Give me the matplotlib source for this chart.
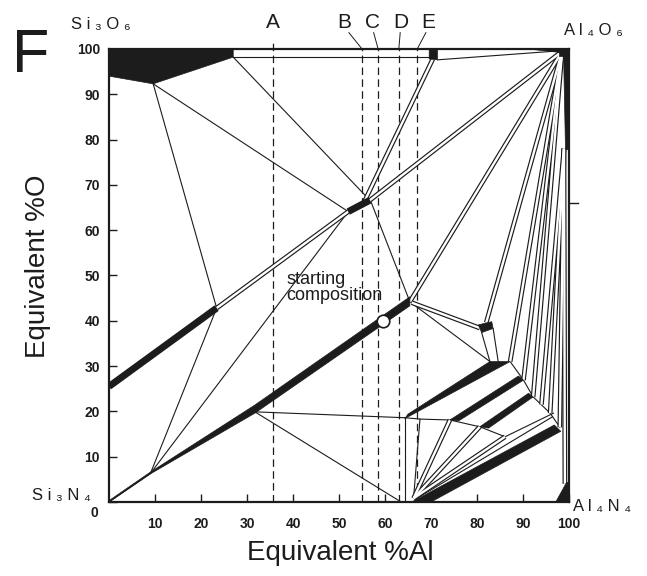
import matplotlib.pyplot as plt
from matplotlib.transforms import ScaledTranslation

plt.rcParams['font.family'] = ['Liberation Sans', 'DejaVu Sans']

INK = '#1c1c1c'

# composition lines (equivalent %Al)
comp_names = ['A', 'B', 'C', 'D', 'E']
comp_x = [35.6, 55.0, 58.5, 63.0, 67.0]
comp_label_x = [35.6, 51.2, 57.2, 63.4, 69.5]

x_ticks = [10, 20, 30, 40, 50, 60, 70, 80, 90, 100]
y_ticks = [0, 10, 20, 30, 40, 50, 60, 70, 80, 90, 100]

start_comp = (59.6, 40.0)

# thin tie lines: (x0, y0, x1, y1) in eq %Al / eq %O
thin_lines = [
    (9.6, 92.3, 23.4, 42.8),
    (9.6, 92.3, 52.0, 64.1),
    (27.0, 98.2, 56.7, 66.6),
    (9.0, 6.3, 23.4, 42.8),
    (9.0, 6.3, 52.0, 64.1),
    (31.7, 19.9, 64.3, 18.6),
    (31.7, 19.9, 63.5, 0.0),
    (64.3, 0.0, 64.3, 18.6),
    (65.4, 44.2, 56.9, 66.4),
    (65.4, 44.2, 82.8, 31.0),
    (81.0, 37.4, 82.8, 31.0),
    (83.5, 38.3, 84.6, 31.0),
    (27.0, 98.2, 69.6, 98.2),
    (71.4, 97.6, 98.0, 99.6),
    (66.2, 0.8, 67.6, 18.3),
    (66.6, 0.6, 96.4, 18.8),
    (0.0, 0.0, 9.0, 6.3),
]

# boundary chains
bottom_chain_x = [64.3, 67.6, 74.1, 80.6, 86.1, 96.6]
bottom_chain_y = [18.6, 18.3, 18.1, 16.6, 14.4, 19.6]
right_chain_x = [87.2, 90.1, 92.2, 95.9, 98.0]
right_chain_y = [31.0, 26.9, 23.2, 19.6, 16.5]

# narrow two-phase strips drawn as double lines
double_lines = [
    (23.4, 42.8, 52.0, 64.1),
    (56.7, 66.6, 98.5, 99.5),
    (55.6, 66.5, 70.4, 97.8),
    (65.4, 44.2, 98.5, 99.5),
    (65.8, 44.0, 80.6, 38.4),
    (82.0, 39.6, 98.5, 99.5),
    (87.2, 31.0, 98.5, 99.5),
    (90.1, 26.9, 98.5, 99.5),
    (92.2, 23.2, 98.5, 99.5),
    (95.9, 19.6, 98.9, 78.0),
    (98.0, 16.5, 98.9, 78.0),
    (94.0, 21.5, 98.9, 78.0),
    (98.9, 78.0, 99.1, 4.0),
    (66.2, 0.8, 74.1, 18.1),
    (66.2, 0.8, 80.6, 16.6),
    (66.2, 0.8, 86.1, 14.4),
]

# single-phase / dense regions (filled)
black_regions = [
    [(0, 100), (27.0, 100), (27.0, 98.2), (9.6, 92.3), (0, 94.0)],
    [(69.6, 97.8), (71.4, 97.6), (71.4, 100), (69.6, 100)],
    [(97.8, 98.5), (100, 98.5), (100, 100), (97.8, 100)],
    [(92.0, 100), (98.0, 100), (98.0, 99.3)],
    [(80.3, 39.1), (83.2, 39.8), (83.5, 38.3), (81.0, 37.4)],
    [(64.3, 18.4), (87.2, 31.0), (82.8, 31.0), (65.0, 19.4)],
    [(74.1, 18.1), (76.0, 17.9), (90.1, 26.9), (89.0, 27.8)],
    [(80.6, 16.6), (82.5, 16.3), (92.2, 23.2), (91.2, 24.0)],
    [(65.8, 0.0), (70.0, 0.0), (98.2, 15.6), (96.8, 17.0)],
    [(97.0, 0.0), (100, 0.0), (100, 4.5), (99.4, 4.5)],
    # right edge wedge below Al4O6
    [(98.6, 99.5), (100, 99.5), (100, 78.0), (99.2, 78.0)],
    # Si3N4 - starting composition join
    [(0, 0), (9.0, 6.2), (31.7, 19.6), (65.4, 43.3),
     (65.4, 45.3), (31.7, 21.4), (9.0, 6.6), (0, 0.3)],
]

thick_lines = [
    (0.0, 25.5, 23.4, 42.8),
    (52.0, 64.1, 56.7, 66.6),
]

fig = plt.figure(figsize=(6.47, 5.76), dpi=100)
ax = fig.add_axes([0.1685, 0.1285, 0.711, 0.7865])
ax.set_xlim(0, 100)
ax.set_ylim(0, 100)

for x in comp_x:
    ax.plot([x, x], [0, 101.5 if x < 40 else 100], color=INK, lw=0.9,
            ls=(0, (6, 3.5)), clip_on=False, zorder=1)

for x0, y0, x1, y1 in thin_lines:
    ax.plot([x0, x1], [y0, y1], color=INK, lw=0.8, zorder=2)
ax.plot(bottom_chain_x, bottom_chain_y, color=INK, lw=0.8, zorder=2)
ax.plot(right_chain_x, right_chain_y, color=INK, lw=0.8, zorder=2)

for x0, y0, x1, y1 in double_lines:
    ax.plot([x0, x1], [y0, y1], color=INK, lw=3.4, solid_capstyle='butt', zorder=3)
for x0, y0, x1, y1 in double_lines:
    ax.plot([x0, x1], [y0, y1], color='white', lw=1.7, solid_capstyle='butt', zorder=3)

for poly in black_regions:
    ax.fill([p[0] for p in poly], [p[1] for p in poly], color=INK, lw=0.5,
            ec=INK, zorder=4, clip_on=False)
for x0, y0, x1, y1 in thick_lines:
    ax.plot([x0, x1], [y0, y1], color=INK, lw=5, solid_capstyle='butt', zorder=4)

ax.plot(*start_comp, 'o', ms=9, mfc='white', mec=INK, mew=1.2, zorder=5)
ax.text(38.5, 51.0, 'starting\ncomposition', fontsize=13, va='top', ha='left',
        linespacing=0.95, color=INK, zorder=6)

for name, lx, x in zip(comp_names, comp_label_x, comp_x):
    ax.text(lx, 103.8, name, fontsize=15, ha='center', va='bottom', color=INK)
    if name != 'A':
        ax.plot([lx + (x - lx) * 0.25, x], [103.6, 100], color=INK, lw=0.7,
                clip_on=False)

# corner labels
ax.text(-8.3, 104.4, 'S i ₃ O ₆', fontsize=12, color=INK, clip_on=False)
ax.text(99.0, 103.0, 'A l ₄ O ₆', fontsize=12, color=INK, clip_on=False)
ax.text(-16.8, 0.4, 'S i ₃ N ₄', fontsize=12, color=INK, clip_on=False)
ax.text(100.9, -2.0, 'A l ₄ N ₄', fontsize=12, color=INK, clip_on=False)

# single outward tick on the right spine
ax.plot([100, 102], [66, 66], color=INK, lw=1, clip_on=False)

ax.set_xticks(x_ticks)
ax.set_yticks(y_ticks)
ax.tick_params(axis='both', direction='in', length=6, width=1, colors=INK,
               labelsize=10)
ax.tick_params(axis='x', pad=10.5)
ax.tick_params(axis='y', pad=6.5)
for lbl in ax.get_xticklabels() + ax.get_yticklabels():
    lbl.set_fontweight('bold')
zero = ax.get_yticklabels()[0]
zero.set_transform(zero.get_transform() + ScaledTranslation(-1 / 72, -7 / 72, fig.dpi_scale_trans))

for sp in ax.spines.values():
    sp.set_linewidth(1.6)
    sp.set_color(INK)

fig.text(0.5255, 0.040, 'Equivalent %Al', fontsize=20, ha='center', va='center', color=INK)
fig.text(0.0587, 0.538, 'Equivalent %O', fontsize=20, rotation=90,
         ha='center', va='center', color=INK)
fig.text(0.019, 0.875, 'F', fontsize=44, ha='left', va='baseline', color=INK)

fig.savefig('out.png', dpi=100, facecolor='white')
